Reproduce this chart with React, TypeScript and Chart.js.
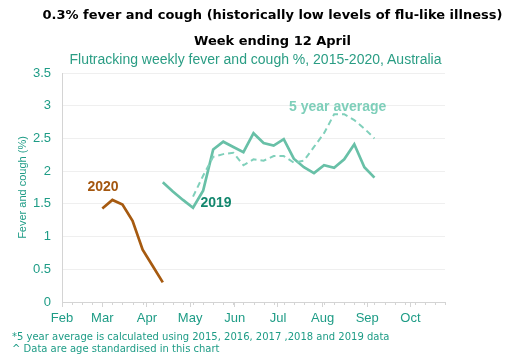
import React, { useEffect, useRef } from "react";
import { Chart, registerables } from "chart.js";
Chart.register(...registerables);

// x values are days counted from 1 February
const monthLabels = ["Feb", "Mar", "Apr", "May", "Jun", "Jul", "Aug", "Sep", "Oct"];
const monthStartDays = [0, 28, 59, 89, 120, 150, 181, 212, 242];
const xMaxDay = 266;

const days2020 = [28, 35, 42, 49, 56, 63, 70];
const values2020 = [1.43, 1.56, 1.49, 1.24, 0.8, 0.55, 0.3];

const days2019 = [70, 77, 84, 91, 98, 105, 112, 119, 126, 133, 140, 147, 154, 161, 168, 175, 182, 189, 196, 203, 210, 217];
const values2019 = [1.83, 1.69, 1.56, 1.44, 1.7, 2.33, 2.45, 2.37, 2.29, 2.58, 2.43, 2.39, 2.49, 2.19, 2.06, 1.97, 2.09, 2.05, 2.18, 2.41, 2.06, 1.9];

const daysAvg = [91, 98, 105, 112, 119, 126, 133, 140, 147, 154, 161, 168, 175, 182, 189, 196, 203, 210, 217];
const valuesAvg = [1.61, 1.93, 2.22, 2.26, 2.28, 2.09, 2.18, 2.16, 2.23, 2.23, 2.13, 2.16, 2.37, 2.58, 2.87, 2.87, 2.78, 2.65, 2.5];

const labelTexts = ["2020", "2019", "5 year average"];
const labelDays = [28.5, 107, 191.5];
const labelValues = [1.76, 1.51, 2.98];
const labelColors = ["#a4570f", "#13876e", "#7ecfba"];

const TEAL_TEXT = "#1e9c86";

const toPoints = (xs: number[], ys: number[]) => xs.map((x, i) => ({ x, y: ys[i] }));

const extrasPlugin = {
  id: "extras",
  afterDraw(chart: any) {
    const ctx = chart.ctx;
    const xs = chart.scales.x;
    const ys = chart.scales.y;
    const bottom = chart.chartArea.bottom;
    ctx.save();
    ctx.strokeStyle = "#d4d4d4";
    ctx.lineWidth = 1;
    for (let d = 0; d <= xMaxDay; d += 7) {
      const px = Math.round(xs.getPixelForValue(d)) + 0.5;
      ctx.beginPath();
      ctx.moveTo(px, bottom);
      ctx.lineTo(px, bottom + 3);
      ctx.stroke();
    }
    ctx.font = "bold 14px 'Liberation Sans', Arial, sans-serif";
    ctx.textAlign = "center";
    ctx.textBaseline = "middle";
    labelTexts.forEach((t, i) => {
      ctx.fillStyle = labelColors[i];
      ctx.fillText(t, xs.getPixelForValue(labelDays[i]), ys.getPixelForValue(labelValues[i]));
    });
    ctx.restore();
  },
};

export default function App() {
  const ref = useRef<HTMLCanvasElement | null>(null);
  useEffect(() => {
    document.body.style.margin = "0";
    const chart = new Chart(ref.current as HTMLCanvasElement, {
      type: "line",
      data: {
        datasets: [
          {
            data: toPoints(daysAvg, valuesAvg),
            borderColor: "#80d0bb",
            borderWidth: 2,
            borderDash: [6, 4],
            pointRadius: 0,
            fill: false,
          },
          {
            data: toPoints(days2019, values2019),
            borderColor: "#68c0a7",
            borderWidth: 2.7,
            pointRadius: 0,
            fill: false,
          },
          {
            data: toPoints(days2020, values2020),
            borderColor: "#a65a10",
            borderWidth: 2.7,
            pointRadius: 0,
            fill: false,
          },
        ],
      },
      options: {
        animation: false,
        responsive: false,
        layout: { padding: { left: 0, right: 66, top: 73, bottom: 32 } },
        plugins: { legend: { display: false }, tooltip: { enabled: false } },
        scales: {
          x: {
            type: "linear",
            min: 0,
            max: xMaxDay,
            afterBuildTicks: (scale: any) => {
              scale.ticks = monthStartDays.map((v) => ({ value: v }));
            },
            afterFit: (scale: any) => {
              scale.height = 25;
            },
            ticks: {
              autoSkip: false,
              maxRotation: 0,
              color: TEAL_TEXT,
              font: { family: "'Liberation Sans', Arial, sans-serif", size: 13 },
              padding: 4,
              callback: (v: any) => {
                const i = monthStartDays.indexOf(Number(v));
                return i >= 0 ? monthLabels[i] : "";
              },
            },
            grid: { drawOnChartArea: false, tickLength: 5, color: "#d4d4d4" },
            border: { color: "#d4d4d4" },
          },
          y: {
            min: 0,
            max: 3.5,
            afterFit: (scale: any) => {
              scale.width = 62;
            },
            ticks: {
              stepSize: 0.5,
              color: TEAL_TEXT,
              font: { family: "'Liberation Sans', Arial, sans-serif", size: 13 },
              padding: 11,
              callback: (v: any) => String(Number(v)),
            },
            title: {
              display: true,
              text: "Fever and cough (%)",
              color: TEAL_TEXT,
              font: { family: "'Liberation Sans', Arial, sans-serif", size: 11 },
              padding: { top: 16, bottom: 0 },
            },
            grid: { color: "#efefef", drawTicks: false },
            border: { color: "#d4d4d4" },
          },
        },
      },
      plugins: [extrasPlugin],
    } as any);
    return () => chart.destroy();
  }, []);

  const abs = (top: number): React.CSSProperties => ({
    position: "absolute",
    left: 0,
    width: 511,
    top,
    textAlign: "center",
    whiteSpace: "nowrap",
  });

  return (
    <div style={{ position: "fixed", left: 0, top: 0, width: 511, height: 359, background: "#fff", overflow: "hidden" }}>
      <canvas ref={ref} width={511} height={359} style={{ position: "absolute", left: 0, top: 0 }} />
      <div style={{ ...abs(7), left: 17, fontFamily: "'DejaVu Sans', Verdana, sans-serif", fontWeight: "bold", fontSize: 13, color: "#000" }}>
        0.3% fever and cough (historically low levels of flu-like illness)
      </div>
      <div style={{ ...abs(33), left: 17, fontFamily: "'DejaVu Sans', Verdana, sans-serif", fontWeight: "bold", fontSize: 13, color: "#000" }}>
        Week ending 12 April
      </div>
      <div style={{ ...abs(51), left: 0, fontFamily: "'Liberation Sans', Arial, sans-serif", fontSize: 14, color: "#2a9d84" }}>
        Flutracking weekly fever and cough %, 2015-2020, Australia
      </div>
      <div style={{ position: "absolute", left: 12, top: 331, fontFamily: "'DejaVu Sans', Verdana, sans-serif", fontSize: 10, color: TEAL_TEXT, whiteSpace: "nowrap", lineHeight: "12px" }}>
        *5 year average is calculated using 2015, 2016, 2017 ,2018 and 2019 data
        <br />^ Data are age standardised in this chart
      </div>
    </div>
  );
}
